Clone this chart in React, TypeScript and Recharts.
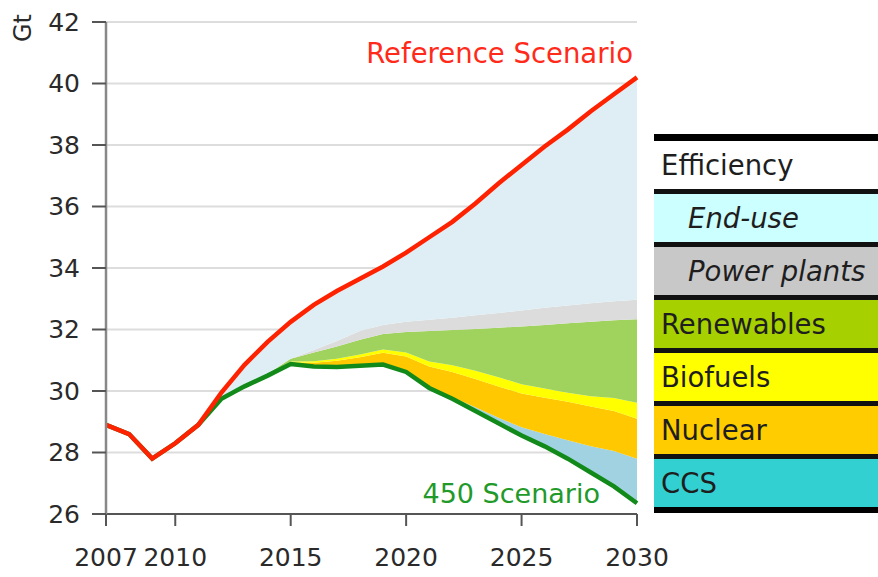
import { ComposedChart, Area, Line, XAxis, YAxis, CartesianGrid } from "recharts";

// years on the x axis
const years = [
  2007, 2008, 2009, 2010, 2011, 2012, 2013, 2014, 2015, 2016, 2017, 2018,
  2019, 2020, 2021, 2022, 2023, 2024, 2025, 2026, 2027, 2028, 2029, 2030,
];

// emissions, Gt
const referenceScenario = [
  28.9, 28.6, 27.8, 28.3, 28.9, 29.95, 30.85, 31.6, 32.25, 32.8, 33.25, 33.65,
  34.05, 34.5, 35.0, 35.5, 36.1, 36.75, 37.35, 37.95, 38.5, 39.1, 39.65, 40.2,
];
const scenario450 = [
  28.9, 28.6, 27.8, 28.3, 28.9, 29.75, 30.15, 30.5, 30.88, 30.8, 30.78, 30.82,
  30.86, 30.62, 30.1, 29.75, 29.35, 28.95, 28.55, 28.2, 27.8, 27.35, 26.9, 26.35,
];

// abatement wedges, Gt (stacked up from the 450 line)
const ccs = [
  0, 0, 0, 0, 0, 0, 0, 0, 0, 0, 0, 0,
  0, 0, 0, 0.05, 0.12, 0.18, 0.27, 0.4, 0.6, 0.85, 1.15, 1.45,
];
const nuclear = [
  0, 0, 0, 0, 0, 0, 0, 0, 0.05, 0.12, 0.2, 0.28,
  0.38, 0.5, 0.7, 0.82, 0.92, 1.02, 1.1, 1.18, 1.25, 1.3, 1.3, 1.3,
];
const biofuels = [
  0, 0, 0, 0, 0, 0, 0, 0, 0.03, 0.05, 0.07, 0.09,
  0.11, 0.13, 0.16, 0.22, 0.27, 0.3, 0.3, 0.3, 0.29, 0.33, 0.42, 0.52,
];
const renewables = [
  0, 0, 0, 0, 0, 0.02, 0.04, 0.06, 0.09, 0.28, 0.4, 0.48,
  0.5, 0.67, 0.99, 1.14, 1.36, 1.61, 1.88, 2.07, 2.26, 2.42, 2.53, 2.71,
];
const powerPlants = [
  0, 0, 0, 0, 0, 0, 0, 0, 0, 0.08, 0.18, 0.28,
  0.3, 0.33, 0.37, 0.4, 0.44, 0.48, 0.52, 0.56, 0.58, 0.6, 0.62, 0.64,
];

const yTicks = [26, 28, 30, 32, 34, 36, 38, 40, 42];
const xTicks = [2007, 2010, 2015, 2020, 2025, 2030];

const legendLabels = [
  "Efficiency",
  "End-use",
  "Power plants",
  "Renewables",
  "Biofuels",
  "Nuclear",
  "CCS",
];
const legendColors = [
  "#ffffff",
  "#ccffff",
  "#c8c8c8",
  "#a6d000",
  "#ffff00",
  "#ffcc00",
  "#33d0d2",
];

const FONT = "DejaVu Sans, Verdana, sans-serif";

const data = years.map((year, i) => {
  const below =
    scenario450[i] + ccs[i] + nuclear[i] + biofuels[i] + renewables[i] + powerPlants[i];
  return {
    year,
    reference: referenceScenario[i],
    s450: scenario450[i],
    base: scenario450[i],
    ccs: ccs[i],
    nuclear: nuclear[i],
    biofuels: biofuels[i],
    renewables: renewables[i],
    powerPlants: powerPlants[i],
    endUse: Math.max(0, referenceScenario[i] - below),
  };
});

function YTick(props: any) {
  const { x, y, payload } = props;
  return (
    <text
      x={x}
      y={y}
      textAnchor="end"
      dominantBaseline="central"
      fill="#2a2a2a"
      fontSize={25}
      fontFamily={FONT}
    >
      {payload.value}
    </text>
  );
}

function XTick(props: any) {
  const { x, y, payload } = props;
  return (
    <text
      x={x}
      y={y + 31}
      textAnchor="middle"
      dominantBaseline="central"
      fill="#2a2a2a"
      fontSize={25}
      fontFamily={FONT}
    >
      {payload.value}
    </text>
  );
}

export default function App() {
  return (
    <div
      style={{
        position: "absolute",
        left: 0,
        top: 0,
        width: 878,
        height: 577,
        background: "#fff",
        fontFamily: FONT,
      }}
    >
      <ComposedChart
        width={878}
        height={577}
        data={data}
        margin={{ top: 22, right: 241, bottom: 0, left: 0 }}
      >
        <CartesianGrid
          horizontal
          vertical={false}
          stroke="#dddddd"
          strokeWidth={2}
        />
        <XAxis
          dataKey="year"
          type="number"
          domain={[2007, 2030]}
          ticks={xTicks}
          height={63}
          tickSize={12}
          tickMargin={0}
          tick={<XTick />}
          axisLine={{ stroke: "#555", strokeWidth: 2 }}
          tickLine={{ stroke: "#555", strokeWidth: 2 }}
        />
        <YAxis
          type="number"
          domain={[26, 42]}
          ticks={yTicks}
          allowDataOverflow
          width={106}
          tickSize={14}
          tickMargin={12}
          tick={<YTick />}
          axisLine={{ stroke: "#888", strokeWidth: 2.5 }}
          tickLine={{ stroke: "#555", strokeWidth: 2 }}
        />
        <Area
          type="linear"
          dataKey="base"
          stackId="w"
          stroke="none"
          fill="none"
          isAnimationActive={false}
        />
        <Area
          type="linear"
          dataKey="ccs"
          stackId="w"
          stroke="none"
          fill="#a0d2e2"
          fillOpacity={1}
          isAnimationActive={false}
        />
        <Area
          type="linear"
          dataKey="nuclear"
          stackId="w"
          stroke="none"
          fill="#ffc800"
          fillOpacity={1}
          isAnimationActive={false}
        />
        <Area
          type="linear"
          dataKey="biofuels"
          stackId="w"
          stroke="none"
          fill="#ffff00"
          fillOpacity={1}
          isAnimationActive={false}
        />
        <Area
          type="linear"
          dataKey="renewables"
          stackId="w"
          stroke="none"
          fill="#9fd35e"
          fillOpacity={1}
          isAnimationActive={false}
        />
        <Area
          type="linear"
          dataKey="powerPlants"
          stackId="w"
          stroke="none"
          fill="#dcdcdc"
          fillOpacity={1}
          isAnimationActive={false}
        />
        <Area
          type="linear"
          dataKey="endUse"
          stackId="w"
          stroke="none"
          fill="#dfeef5"
          fillOpacity={1}
          isAnimationActive={false}
        />
        <Line
          type="linear"
          dataKey="s450"
          stroke="#128a1a"
          strokeWidth={4.5}
          dot={false}
          isAnimationActive={false}
        />
        <Line
          type="linear"
          dataKey="reference"
          stroke="#ff2200"
          strokeWidth={4.5}
          dot={false}
          isAnimationActive={false}
        />
      </ComposedChart>

      <svg
        width={878}
        height={577}
        style={{ position: "absolute", left: 0, top: 0, pointerEvents: "none" }}
      >
        <text
          x={23}
          y={28}
          transform="rotate(-90 23 28)"
          textAnchor="middle"
          dominantBaseline="central"
          fontSize={24}
          fill="#2a2a2a"
          fontFamily={FONT}
        >
          Gt
        </text>
        <text
          x={633}
          y={63}
          textAnchor="end"
          fontSize={27.5}
          fill="#ff2a1a"
          fontFamily={FONT}
        >
          Reference Scenario
        </text>
        <text
          x={600}
          y={503}
          textAnchor="end"
          fontSize={27}
          fill="#229a2a"
          fontFamily={FONT}
        >
          450 Scenario
        </text>
      </svg>

      <div
        style={{
          position: "absolute",
          left: 654,
          top: 134,
          width: 224,
          borderTop: "7px solid #000",
        }}
      >
        {legendLabels.map((label, i) => (
          <div
            key={label}
            style={{
              height: 48,
              borderBottom: i === legendLabels.length - 1 ? "6px solid #000" : "5px solid #111",
              background: legendColors[i],
              display: "flex",
              alignItems: "center",
              paddingLeft: i === 1 || i === 2 ? 34 : 7,
              fontSize: 27.5,
              fontStyle: i === 1 || i === 2 ? "italic" : "normal",
              color: "#1e1e1e",
              whiteSpace: "nowrap",
              overflow: "hidden",
            }}
          >
            {label}
          </div>
        ))}
      </div>
    </div>
  );
}
